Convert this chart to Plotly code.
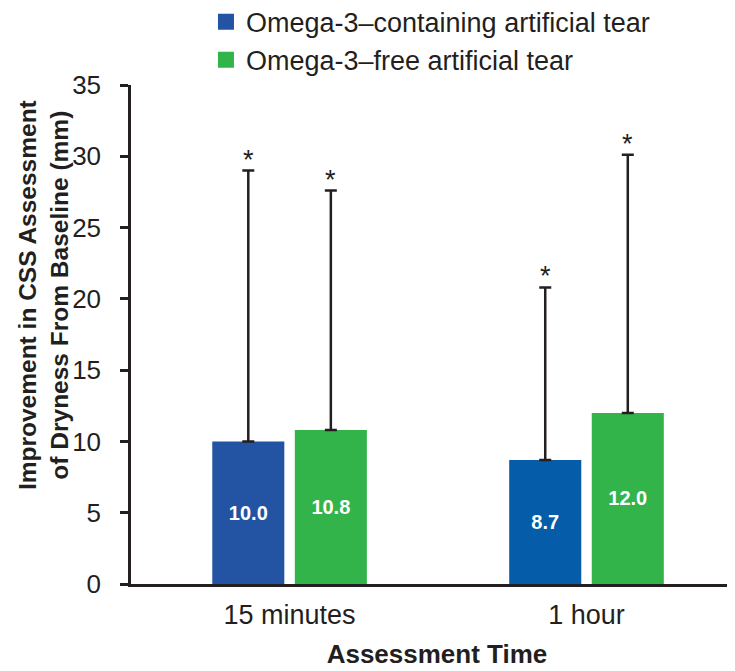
import plotly.graph_objects as go

categories = ["15 minutes", "1 hour"]
series_names = ["Omega-3–containing artificial tear", "Omega-3–free artificial tear"]
containing_vals = [10.0, 8.7]
free_vals = [10.8, 12.0]
containing_err = [19.0, 12.1]
free_err = [16.8, 18.1]
containing_labels = ["10.0", "8.7"]
free_labels = ["10.8", "12.0"]

FONT = "Liberation Sans, Arial, sans-serif"
INK = "#231f20"
BLUE = ["#2354a4", "#055ca9"]
GREEN = "#33b44a"
BARGAP = 0.444

fig = go.Figure()
for name, vals, errs, labels, color in [
    (series_names[0], containing_vals, containing_err, containing_labels, BLUE),
    (series_names[1], free_vals, free_err, free_labels, GREEN),
]:
    fig.add_trace(go.Bar(
        name=name, x=categories, y=vals, text=labels, showlegend=False,
        textposition="inside", insidetextanchor="middle",
        textangle=0, constraintext="none",
        textfont=dict(family=FONT, size=20, color="white", weight="bold"),
        marker=dict(color=color, line=dict(width=0)),
        error_y=dict(type="data", symmetric=False, array=errs,
                     arrayminus=[0] * len(errs), color=INK,
                     thickness=2.5, width=6),
    ))

# legend entries with bigger square swatches
for name, color in [(series_names[0], BLUE[0]), (series_names[1], GREEN)]:
    fig.add_trace(go.Scatter(
        x=[None], y=[None], mode="markers", name=name,
        marker=dict(symbol="square", size=16, color=color),
    ))

# asterisks above the error bar caps
offset = (1 - BARGAP) / 4
for s, (vals, errs) in enumerate([(containing_vals, containing_err), (free_vals, free_err)]):
    for i in range(len(categories)):
        fig.add_annotation(
            x=i + (offset if s else -offset), y=vals[i] + errs[i],
            text="*", showarrow=False, yanchor="middle", yshift=11,
            font=dict(family=FONT, size=27, color=INK),
        )

# y-axis title (sits a bit above the axis centre in the original)
fig.add_annotation(
    text="Improvement in CSS Assessment<br>of Dryness From Baseline (mm)",
    xref="paper", yref="paper", x=0.0, y=0.579, xshift=-88,
    xanchor="center", yanchor="middle", textangle=-90, showarrow=False,
    font=dict(family=FONT, size=24.5, color=INK, weight="bold"),
)

fig.update_layout(
    width=735, height=671,
    barmode="group", bargap=BARGAP, bargroupgap=0.127,
    plot_bgcolor="white", paper_bgcolor="white",
    margin=dict(l=123, r=0, t=77, b=95, autoexpand=False),
    font=dict(family=FONT, color=INK),
    showlegend=True,
    legend=dict(
        x=0.1225, y=1.175, xanchor="left", yanchor="top",
        font=dict(family=FONT, size=27, color=INK),
        itemsizing="trace", tracegroupgap=0, itemwidth=30,
        bgcolor="rgba(0,0,0,0)",
    ),
    xaxis=dict(
        range=[-0.534, 1.527], showline=True, linecolor=INK, linewidth=2.5,
        ticks="", tickangle=0, tickfont=dict(family=FONT, size=27, color=INK),
        ticklabelstandoff=5,
        title=dict(text="Assessment Time", standoff=16,
                   font=dict(family=FONT, size=26, color=INK, weight="bold")),
        showgrid=False, zeroline=False,
    ),
    yaxis=dict(
        range=[0, 35], dtick=5, showline=True, linecolor=INK, linewidth=2.5,
        ticks="outside", ticklen=8, tickwidth=2.5, tickcolor=INK,
        tickfont=dict(family=FONT, size=26, color=INK),
        ticklabelstandoff=14,
        showgrid=False, zeroline=False,
    ),
)

fig.write_html("out.html")
